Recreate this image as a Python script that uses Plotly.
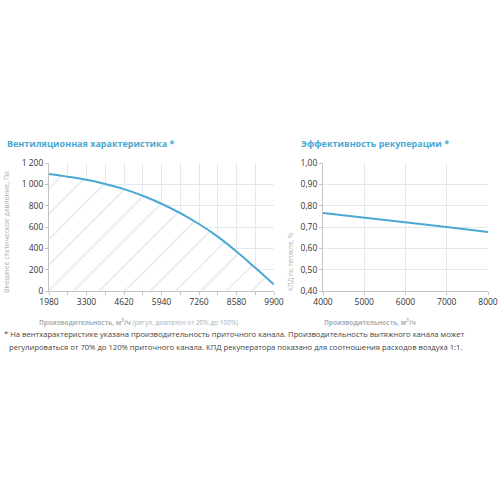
import plotly.graph_objects as go

# Вентиляционная характеристика
flow = [1980, 2640, 3300, 3960, 4620, 5280, 5940, 6600, 7260, 7920, 8580, 9240, 9900]
pressure = [1097, 1072, 1043, 1003, 955, 893, 818, 730, 628, 510, 370, 217, 60]
flow_ticks = [1980, 3300, 4620, 5940, 7260, 8580, 9900]
flow_labels = ['1980', '3300', '4620', '5940', '7260', '8580', '9900']
pressure_ticks = [0, 200, 400, 600, 800, 1000, 1200]
pressure_labels = ['0', '200', '400', '600', '800', '1 000', '1 200']

# Эффективность рекуперации
flow2 = [4000, 5000, 6000, 7000, 8000]
flow2_labels = ['4000', '5000', '6000', '7000', '8000']
eff = [0.766, 0.745, 0.722, 0.700, 0.677]
eff_ticks = [0.4, 0.5, 0.6, 0.7, 0.8, 0.9, 1.0]
eff_labels = ['0,40', '0,50', '0,60', '0,70', '0,80', '0,90', '1,00']

blue = '#4aa8d2'
grid = '#e3e8ec'
axcol = '#c4c4c4'
font = 'Open Sans'

fig = go.Figure()
fig.add_trace(go.Scatter(x=flow, y=pressure, mode='lines', line=dict(color=blue, width=2, shape='spline'),
                         fill='tozeroy', fillcolor='rgba(0,0,0,0)',
                         fillpattern=dict(shape='/', fgcolor='#c6d9e2', bgcolor='white', size=18, solidity=0.09),
                         xaxis='x', yaxis='y', showlegend=False, hoverinfo='skip'))
fig.add_trace(go.Scatter(x=flow2, y=eff, mode='lines', line=dict(color=blue, width=2),
                         xaxis='x2', yaxis='y2', showlegend=False, hoverinfo='skip'))

axis_common = dict(showline=True, linecolor=axcol, linewidth=1, gridcolor=grid, gridwidth=1,
                   ticks='outside', ticklen=3, tickcolor=axcol, zeroline=False, automargin=False,
                   tickfont=dict(family=font, size=8.5, color='#333333'))

fig.update_layout(
    width=500, height=500,
    margin=dict(l=0, r=0, t=0, b=0, pad=0, autoexpand=False),
    paper_bgcolor='white', plot_bgcolor='white', showlegend=False,
    xaxis=dict(domain=[0.098, 0.548], range=[1980, 9900], tickvals=flow_ticks, ticktext=flow_labels,
               minor=dict(dtick=660, tick0=1980, showgrid=True, gridcolor=grid, ticks='outside', ticklen=3, tickcolor=axcol),
               anchor='y', **axis_common),
    yaxis=dict(domain=[0.418, 0.674], range=[0, 1200], tickvals=pressure_ticks, ticktext=pressure_labels,
               anchor='x', **axis_common),
    xaxis2=dict(domain=[0.646, 0.976], range=[4000, 8000], tickvals=flow2, ticktext=flow2_labels,
                anchor='y2', **axis_common),
    yaxis2=dict(domain=[0.418, 0.674], range=[0.4, 1.0], tickvals=eff_ticks, ticktext=eff_labels,
                anchor='x2', **axis_common),
)

ann = [
    dict(text='<b>Вентиляционная характеристика *</b>', x=5, y=143, size=9, color=blue, anchor='left'),
    dict(text='<b>Эффективность рекуперации *</b>', x=299, y=143, size=9, color=blue, anchor='left'),
    dict(text='<b>Производительность, м<sup>3</sup>/ч</b> (регул. диапазон от 20% до 100%)', x=37, y=322, size=6.5,
         color='#a8b2b8', anchor='left'),
    dict(text='<b>Производительность, м<sup>3</sup>/ч</b>', x=322, y=322, size=6.5, color='#a8b2b8', anchor='left'),
    dict(text='* На вентхарактеристике указана производительность приточного канала. Производительность вытяжного канала может',
         x=2, y=334, size=7.65, color='#444444', anchor='left'),
    dict(text='регулироваться от 70% до 120% приточного канала. КПД рекуператора показано для соотношения расходов воздуха 1:1.',
         x=7, y=347, size=7.65, color='#444444', anchor='left'),
]
for a in ann:
    fig.add_annotation(text=a['text'], x=a['x'] / 500, y=1 - a['y'] / 500, xref='paper', yref='paper',
                       xanchor=a['anchor'], yanchor='middle', showarrow=False,
                       font=dict(family=font, size=a['size'], color=a['color']))

fig.add_annotation(text='Внешнее статическое давление, Па', x=7 / 500, y=1 - 232 / 500, xref='paper', yref='paper',
                   textangle=-90, showarrow=False, xanchor='center', yanchor='middle',
                   font=dict(family=font, size=7, color='#a8b2b8'))
fig.add_annotation(text='КПД по теплоте, %', x=290 / 500, y=1 - 262 / 500, xref='paper', yref='paper',
                   textangle=-90, showarrow=False, xanchor='center', yanchor='middle',
                   font=dict(family=font, size=6.5, color='#a8b2b8'))

# the page's default body margin would shift the chart
fig.write_html('out.html', config={'displayModeBar': False},
               post_script="document.body.style.margin='0';")
